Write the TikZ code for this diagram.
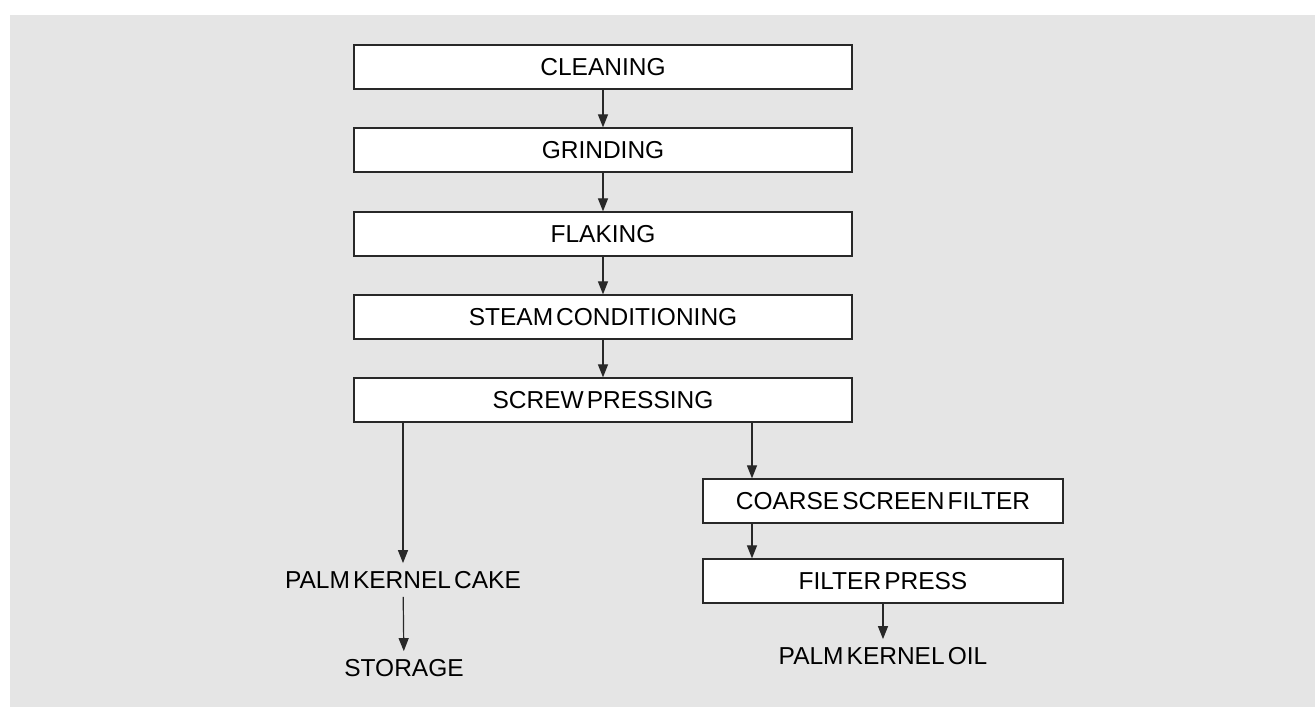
\documentclass[tikz,border=0pt]{standalone}
\usepackage{fontspec}
\setmainfont{Liberation Sans}[WordSpace=0.45]
\usetikzlibrary{arrows.meta,positioning}
\definecolor{bggray}{RGB}{229,229,229}
\definecolor{linegray}{RGB}{40,40,40}

\begin{document}
\begin{tikzpicture}[x=1pt,y=-1pt,
    font=\fontsize{24.5}{29}\selectfont,
    stage/.style={draw=linegray, line width=1.3pt, fill=white, minimum width=498pt, minimum height=44pt, inner sep=0pt},
    substage/.style={stage, minimum width=360pt},
    product/.style={inner sep=8pt},
    arr/.style={-{Triangle[length=13pt,width=10pt]}, draw=linegray, line width=1.2pt}]
    \useasboundingbox (0,0) rectangle (1315,707);
    \fill[bggray] (10,15) rectangle (1315,707);
    \node[stage] (clean) at (603,67) {CLEANING};
    \node[stage] (grind) at (603,150) {GRINDING};
    \node[stage] (flake) at (603,234) {FLAKING};
    \node[stage] (steam) at (603,317) {STEAM CONDITIONING};
    \node[stage] (screw) at (603,400) {SCREW PRESSING};
    \node[substage] (coarse) at (883,501) {COARSE SCREEN FILTER};
    \node[substage] (fpress) at (883,581) {FILTER PRESS};
    \node[product] (cake) at (403,580) {PALM KERNEL CAKE};
    \node[product] (store) at (404,668) {STORAGE};
    \node[product] (oil) at (883,656) {PALM KERNEL OIL};
    \coordinate (oilline) at (752,0);
    \draw[arr] (clean) -- (grind);
    \draw[arr] (grind) -- (flake);
    \draw[arr] (flake) -- (steam);
    \draw[arr] (steam) -- (screw);
    \draw[arr] (screw.south -| cake.north) -- (cake.north);
    \draw[arr] (cake) -- (store);
    \draw[arr] (screw.south -| oilline) -- (coarse.north -| oilline);
    \draw[arr] (coarse.south -| oilline) -- (fpress.north -| oilline);
    \draw[arr] (fpress) -- (oil);
\end{tikzpicture}
\end{document}
